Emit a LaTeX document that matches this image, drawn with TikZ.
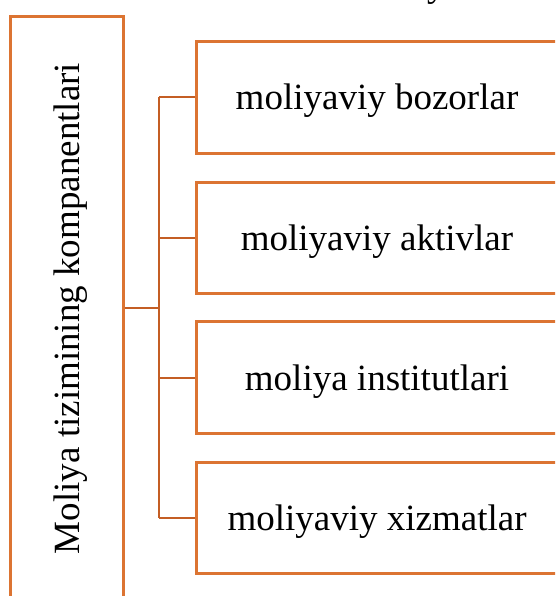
\documentclass[tikz,border=0pt]{standalone}
\usepackage{fontspec}
\setmainfont{Liberation Serif}
\definecolor{boxor}{RGB}{220,116,50}
\definecolor{linkor}{RGB}{196,94,36}
\begin{document}
\begin{tikzpicture}[x=1pt,y=-1pt,
  compbox/.style={draw=boxor,line width=3pt,fill=white,minimum width=362pt,minimum height=111.5pt,
     inner sep=0pt,text height=33pt,text depth=8pt,font=\fontsize{37}{40}\selectfont},
  sidebox/.style={draw=boxor,line width=3pt,minimum width=113pt,inner sep=0pt},
  link/.style={draw=linkor,line width=2pt}]
\useasboundingbox (0,0) rectangle (555,596);
\clip (0,0) rectangle (555,596);
\node[anchor=base west,inner sep=0pt,font=\fontsize{37}{40}\selectfont] (topfrag) at (427,-3) {y};
\node[sidebox,minimum height=600pt,anchor=north] (lbox) at (66.5,14.7) {};
\node[rotate=90,anchor=base,inner sep=0pt,font=\fontsize{37}{40}\selectfont] (ltitle) at (79,308.5) {Moliya tizimining kompanentlari};
\node[compbox] (b1) at (377,97.5) {moliyaviy bozorlar};
\node[compbox] (b2) at (377,238) {moliyaviy aktivlar};
\node[compbox] (b3) at (377,377.5) {moliya institutlari};
\node[compbox] (b4) at (377,518) {moliyaviy xizmatlar};
\coordinate (hub) at (159,308);
\draw[link] (lbox.east |- hub) -- (hub);
\draw[link] (b1.west -| hub) -- (b4.west -| hub);
\foreach \b in {b1,b2,b3,b4}{\draw[link] (\b.west -| hub) -- (\b.west);}
\end{tikzpicture}
\end{document}
